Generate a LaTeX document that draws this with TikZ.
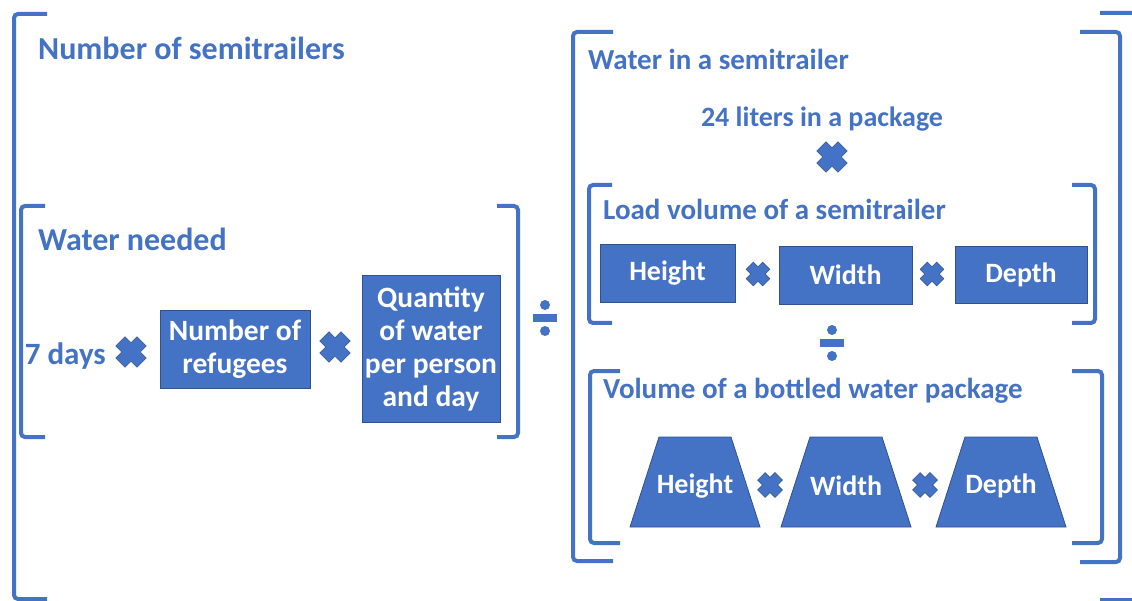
\documentclass[tikz,border=0pt]{standalone}
\usepackage{fontspec}
\setmainfont{Carlito}
\definecolor{officeblue}{HTML}{4472C4}
\definecolor{edgeblue}{HTML}{2F528F}

\tikzset{
  bracket/.style={draw=officeblue, line width=4pt, rounded corners=4pt},
  title/.style={anchor=base west, text=officeblue, inner sep=0pt,
    font=\fontsize{29}{33}\selectfont\bfseries},
  bigtitle/.style={title, font=\fontsize{32}{36}\selectfont\bfseries},
  label/.style={anchor=base, text=officeblue, inner sep=0pt,
    font=\fontsize{28}{33}\selectfont\bfseries},
  block/.style={draw=edgeblue, line width=0.8pt, fill=officeblue, text=white,
    align=center, inner sep=0pt, font=\fontsize{28}{33}\selectfont\bfseries},
  bigblock/.style={block, font=\fontsize{29.5}{33}\selectfont\bfseries},
  slant/.style={draw=edgeblue, line width=0.8pt, fill=officeblue},
  slanttext/.style={text=white, inner sep=0pt, font=\fontsize{28}{33}\selectfont\bfseries},
  mult/.pic={
    \filldraw[fill=officeblue, draw=edgeblue, line width=0.5pt, rotate=45]
      (6.5,15) -- (6.5,6.5) -- (15,6.5) -- (15,-6.5) -- (6.5,-6.5) -- (6.5,-15)
      -- (-6.5,-15) -- (-6.5,-6.5) -- (-15,-6.5) -- (-15,6.5) -- (-6.5,6.5)
      -- (-6.5,15) -- cycle;
  },
  divide/.pic={
    \fill[officeblue] (-12,-4) rectangle (12,4);
    \fill[officeblue] (0,-13) circle (5pt);
    \fill[officeblue] (0,13) circle (5pt);
  }
}

\begin{document}
\begin{tikzpicture}[x=1pt, y=-1pt]
        \useasboundingbox (0,0) rectangle (1132,601);

        \draw[bracket] (47,14) -- (14,14) -- (14,599) -- (47,599);
        \draw[bracket] (1100,13) -- (1136,13) -- (1136,600) -- (1100,600);
        \node[bigtitle] (total) at (38,60) {Number of semitrailers};

        \draw[bracket] (45,206) -- (21,206) -- (21,437) -- (45,437);
        \draw[bracket] (497,206) -- (518,206) -- (518,437) -- (497,437);
        \node[bigtitle] (needed) at (38,251) {Water needed};
        \node[label, anchor=base east, font=\fontsize{31}{33}\selectfont\bfseries] (days) at (106,365) {7 days};
        \pic at (131,352) {mult};
        \node[bigblock, minimum width=150pt, minimum height=78pt] (refugees) at (235,349) {Number of\\refugees};
        \pic at (335,347) {mult};
        \node[bigblock, minimum width=138pt, minimum height=147pt] (quantity) at (431,348.5) {Quantity\\of water\\per person\\and day};

        \pic at (545,318) {divide};

        \draw[bracket] (613,32) -- (573,32) -- (573,561) -- (613,561);
        \draw[bracket] (1080,32) -- (1120,32) -- (1120,562) -- (1080,562);
        \node[title] (insemi) at (588,70) {Water in a semitrailer};
        \node[label] (liters) at (822,127) {24 liters in a package};
        \pic at (832,157) {mult};

        \draw[bracket] (612,185) -- (589,185) -- (589,323) -- (612,323);
        \draw[bracket] (1072,185) -- (1095,185) -- (1095,323) -- (1072,323);
        \node[title] (load) at (603,220) {Load volume of a semitrailer};
        \node[block, minimum width=135pt, minimum height=58pt] (lheight) at (667.5,273) {Height};
        \pic[scale=0.78] at (758,274) {mult};
        \node[block, minimum width=133pt, minimum height=58pt] (lwidth) at (845.5,275) {Width};
        \pic[scale=0.78] at (932,274) {mult};
        \node[block, minimum width=132pt, minimum height=57pt] (ldepth) at (1021,274.5) {Depth};

        \pic at (832,343) {divide};

        \draw[bracket] (620,371) -- (590,371) -- (590,543) -- (620,543);
        \draw[bracket] (1072,371) -- (1102,371) -- (1102,543) -- (1072,543);
        \node[title] (package) at (603,398) {Volume of a bottled water package};
        \filldraw[slant] (630,527) -- (659,437) -- (731,437) -- (760,527) -- cycle;
        \node[slanttext] (pheight) at (695,486) {Height};
        \pic[scale=0.82] at (770,485) {mult};
        \filldraw[slant] (781,527) -- (810,437) -- (882,437) -- (911,527) -- cycle;
        \node[slanttext] (pwidth) at (846,486) {Width};
        \pic[scale=0.82] at (925,485) {mult};
        \filldraw[slant] (936,527) -- (965,437) -- (1037,437) -- (1066,527) -- cycle;
        \node[slanttext] (pdepth) at (1001,486) {Depth};
      \end{tikzpicture}
\end{document}
